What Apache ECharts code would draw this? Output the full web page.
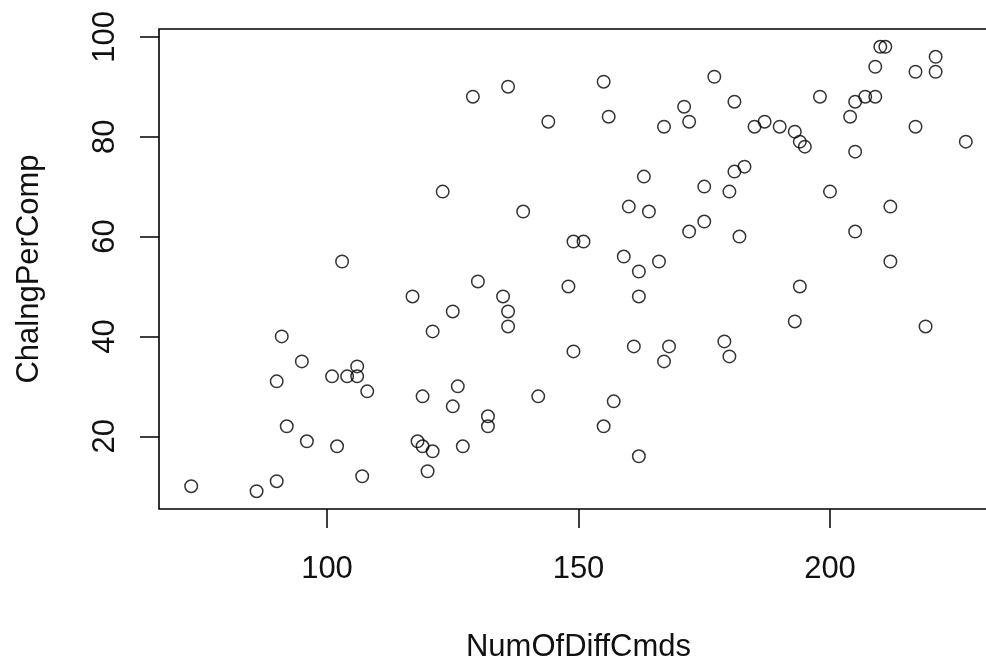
<!DOCTYPE html>
<html>
<head>
<meta charset="utf-8">
<script src="https://cdn.jsdelivr.net/npm/echarts@6/dist/echarts.min.js"></script>
<style>
html,body{margin:0;padding:0;background:#fff;}
#chart{width:986px;height:660px;}
</style>
</head>
<body>
<div id="chart"></div>
<script>
// Data
var numOfDiffCmds = [
  129,136,144,123,139,103,130,117,135,125,136,121,136,
  210,211,221,209,217,221,155,177,156,181,171,172,167,
  198,205,207,209,204,185,187,190,193,194,195,217,227,205,
  163,183,181,175,180,200,160,164,212,175,172,205,182,
  149,151,159,166,162,212,148,162,194,193,
  91,95,90,101,104,106,106,108,119,126,125,142,132,132,
  92,96,102,118,119,121,127,120,107,73,86,90,
  149,161,168,167,179,180,219,157,155,162
];
var chalngPerComp = [
  88,90,83,69,65,55,51,48,48,45,45,41,42,
  98,98,96,94,93,93,91,92,84,87,86,83,82,
  88,87,88,88,84,82,83,82,81,79,78,82,79,77,
  72,74,73,70,69,69,66,65,66,63,61,61,60,
  59,59,56,55,53,55,50,48,50,43,
  40,35,31,32,32,34,32,29,28,30,26,28,24,22,
  22,19,18,19,18,17,18,13,12,10,9,11,
  37,38,38,35,39,36,42,27,22,16
];
var xTicks = [100, 150, 200];
var yTicks = [20, 40, 60, 80, 100];
var xLabel = 'NumOfDiffCmds';
var yLabel = 'ChalngPerComp';

var points = numOfDiffCmds.map(function (x, i) { return [x, chalngPerComp[i]]; });

var FONT = 'Liberation Sans, Arial, sans-serif';
var chart = echarts.init(document.getElementById('chart'), null, {renderer: 'canvas'});
chart.setOption({
  animation: false,
  backgroundColor: '#ffffff',
  grid: {
    left: 159, top: 29, width: 839, height: 480,
    containLabel: false, outerBoundsMode: 'none',
    show: true, borderColor: '#000', borderWidth: 1.6, backgroundColor: 'transparent'
  },
  xAxis: {
    type: 'value', min: 66.6, max: 233.4,
    axisLine: {show: false},
    splitLine: {show: false},
    axisTick: {show: true, customValues: xTicks, length: 19, lineStyle: {color: '#000', width: 1.5}},
    axisLabel: {show: true, customValues: xTicks, margin: 45, fontSize: 31, fontFamily: FONT, color: '#111'},
    name: xLabel, nameLocation: 'middle', nameGap: 123,
    nameTextStyle: {fontSize: 31, fontFamily: FONT, color: '#111'}
  },
  yAxis: {
    type: 'value', min: 5.44, max: 101.56,
    axisLine: {show: false},
    splitLine: {show: false},
    axisTick: {show: true, customValues: yTicks, length: 19, lineStyle: {color: '#000', width: 1.5}},
    axisLabel: {show: true, customValues: yTicks, rotate: 90, margin: 38, fontSize: 31, fontFamily: FONT, color: '#111'},
    name: yLabel, nameLocation: 'middle', nameGap: 114,
    nameTextStyle: {fontSize: 31, fontFamily: FONT, color: '#111'}
  },
  series: [{
    type: 'scatter',
    data: points,
    symbol: 'circle',
    symbolSize: 12.5,
    silent: true,
    itemStyle: {color: 'rgba(0,0,0,0)', borderColor: '#000', borderWidth: 1.5},
    emphasis: {disabled: true}
  }]
});
</script>
</body>
</html>
